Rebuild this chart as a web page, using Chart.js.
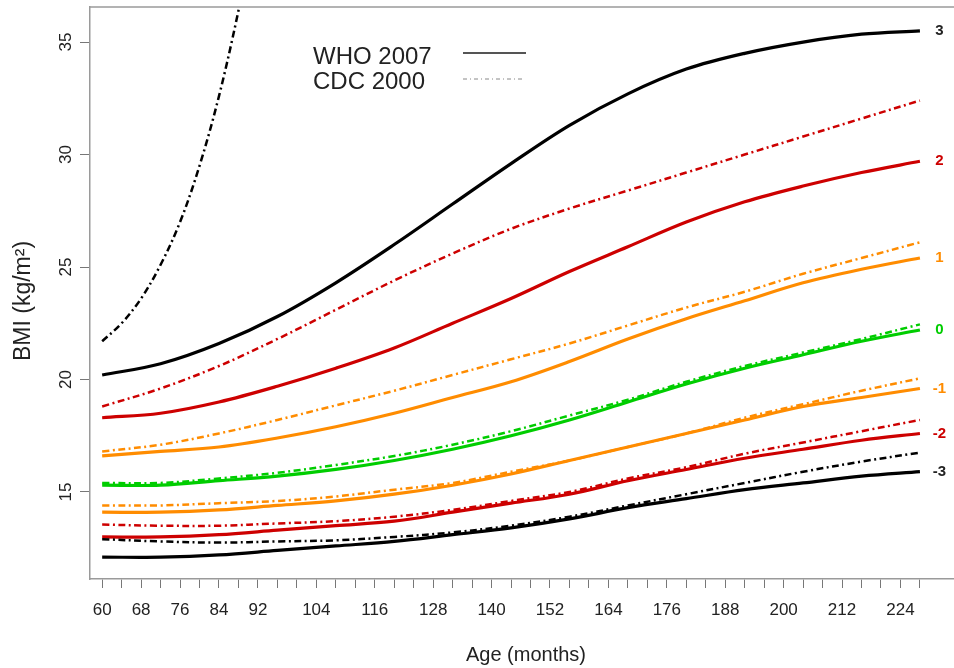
<!DOCTYPE html>
<html>
<head>
<meta charset="utf-8">
<title>BMI-for-age: WHO 2007 vs CDC 2000</title>
<script src="https://cdn.jsdelivr.net/npm/chart.js@4.4.1/dist/chart.umd.min.js"></script>
<style>
  html, body { margin: 0; padding: 0; background: #fff; overflow: hidden; }
  #wrap { width: 954px; height: 668px; }
</style>
</head>
<body>
<div id="wrap"><canvas id="bmi" width="954" height="668"></canvas></div>
<script>
(function () {
  'use strict';

  /* ---------------------------------------------------------------
     DATA
     --------------------------------------------------------------- */

  var ages = [60, 72, 84, 96, 108, 120, 132, 144, 156, 168, 180, 192, 204, 216, 228];

  // WHO 2007 z-score curves (solid)
  var whoP3 = [20.2, 20.7, 21.6, 22.8, 24.3, 26.0, 27.8, 29.6, 31.3, 32.7, 33.8, 34.5, 35.0, 35.35, 35.5];
  var whoP2 = [18.3, 18.5, 19.0, 19.7, 20.5, 21.4, 22.5, 23.6, 24.8, 25.9, 27.0, 27.9, 28.6, 29.2, 29.7];
  var whoP1 = [16.6, 16.8, 17.0, 17.4, 17.9, 18.5, 19.2, 19.9, 20.8, 21.8, 22.7, 23.5, 24.3, 24.9, 25.4];
  var who0  = [15.3, 15.3, 15.5, 15.7, 16.0, 16.4, 16.9, 17.5, 18.2, 19.0, 19.8, 20.5, 21.1, 21.7, 22.2];
  var whoM1 = [14.1, 14.1, 14.2, 14.4, 14.6, 14.9, 15.3, 15.8, 16.4, 17.0, 17.6, 18.2, 18.8, 19.2, 19.6];
  var whoM2 = [13.0, 13.0, 13.1, 13.3, 13.5, 13.7, 14.1, 14.5, 14.9, 15.5, 16.0, 16.5, 16.9, 17.3, 17.6];
  var whoM3 = [12.1, 12.1, 12.2, 12.4, 12.6, 12.8, 13.1, 13.4, 13.8, 14.3, 14.7, 15.1, 15.4, 15.7, 15.9];

  // CDC 2000 z-score curves (dot-dash)
  var cdcP3Ages = [60, 64, 68, 72, 76, 80, 84, 88, 92];
  var cdcP3 = [21.7, 22.5, 23.6, 25.1, 27.0, 29.5, 32.6, 36.4, 40.8];
  var cdcP2 = [18.8, 19.6, 20.6, 21.8, 23.1, 24.4, 25.6, 26.7, 27.6, 28.4, 29.2, 30.0, 30.8, 31.6, 32.4];
  var cdcP1 = [16.8, 17.1, 17.6, 18.2, 18.85, 19.5, 20.2, 20.9, 21.6, 22.4, 23.2, 23.9, 24.7, 25.4, 26.1];
  var cdc0  = [15.4, 15.4, 15.6, 15.85, 16.2, 16.6, 17.1, 17.7, 18.4, 19.1, 19.9, 20.6, 21.2, 21.8, 22.45];
  var cdcM1 = [14.4, 14.4, 14.5, 14.6, 14.8, 15.1, 15.4, 15.9, 16.4, 17.0, 17.6, 18.3, 18.9, 19.5, 20.05];
  var cdcM2 = [13.55, 13.5, 13.5, 13.6, 13.7, 13.9, 14.2, 14.6, 15.0, 15.6, 16.1, 16.7, 17.2, 17.7, 18.2];
  var cdcM3 = [12.9, 12.8, 12.75, 12.8, 12.85, 13.0, 13.2, 13.5, 13.9, 14.4, 14.9, 15.4, 15.9, 16.35, 16.75];

  // axis ticks
  var xTickValues = [60, 64, 68, 72, 76, 80, 84, 88, 92, 96, 100, 104, 108, 112, 116, 120,
    124, 128, 132, 136, 140, 144, 148, 152, 156, 160, 164, 168, 172, 176, 180, 184,
    188, 192, 196, 200, 204, 208, 212, 216, 220, 224, 228];
  var xTickLabels = [60, 68, 76, 84, 92, 104, 116, 128, 140, 152, 164, 176, 188, 200, 212, 224];
  var yTickValues = [15, 20, 25, 30, 35];

  // right-hand z-score labels
  var zLabels = ['3', '2', '1', '0', '-1', '-2', '-3'];

  /* ---------------------------------------------------------------
     STYLE
     --------------------------------------------------------------- */

  var FONT = '"Liberation Sans", Arial, Helvetica, sans-serif';
  var BLACK = '#000000';
  var RED = '#cd0000';
  var ORANGE = '#ff8c00';
  var GREEN = '#00cd00';
  var FRAME = '#9a9a9a';
  var TEXT = '#222222';
  var DOTDASH = [7, 3.5, 2, 3.5];

  function pts(xs, ys) {
    return xs.map(function (x, i) { return { x: x, y: ys[i] }; });
  }

  function series(label, xs, ys, color, dashed) {
    return {
      label: label,
      data: pts(xs, ys),
      borderColor: color,
      borderWidth: dashed ? 2.5 : 3.2,
      borderDash: dashed ? DOTDASH : [],
      pointRadius: 0,
      fill: false,
      tension: 0.35
    };
  }

  var whoSets = [
    { ys: whoP3, color: BLACK },
    { ys: whoP2, color: RED },
    { ys: whoP1, color: ORANGE },
    { ys: who0, color: GREEN },
    { ys: whoM1, color: ORANGE },
    { ys: whoM2, color: RED },
    { ys: whoM3, color: BLACK }
  ];

  var datasets = [
    series('CDC +3', cdcP3Ages, cdcP3, BLACK, true),
    series('CDC +2', ages, cdcP2, RED, true),
    series('CDC +1', ages, cdcP1, ORANGE, true),
    series('CDC 0', ages, cdc0, GREEN, true),
    series('CDC -1', ages, cdcM1, ORANGE, true),
    series('CDC -2', ages, cdcM2, RED, true),
    series('CDC -3', ages, cdcM3, BLACK, true)
  ];
  whoSets.forEach(function (s, i) {
    datasets.push(series('WHO ' + zLabels[i], ages, s.ys, s.color, false));
  });

  /* ---------------------------------------------------------------
     DECORATION PLUGIN: frame top, rotated y labels, titles, legend
     --------------------------------------------------------------- */

  var decor = {
    id: 'decor',
    afterDraw: function (chart) {
      var ctx = chart.ctx;
      var a = chart.chartArea;
      var xs = chart.scales.x;
      var ys = chart.scales.y;
      ctx.save();

      // top edge of the box
      ctx.strokeStyle = FRAME;
      ctx.lineWidth = 1.5;
      ctx.beginPath();
      ctx.moveTo(a.left, a.top);
      ctx.lineTo(a.right, a.top);
      ctx.stroke();

      // y tick labels, parallel to the axis
      ctx.fillStyle = TEXT;
      ctx.font = '17px ' + FONT;
      ctx.textAlign = 'center';
      ctx.textBaseline = 'middle';
      yTickValues.forEach(function (v) {
        ctx.save();
        ctx.translate(66, ys.getPixelForValue(v));
        ctx.rotate(-Math.PI / 2);
        ctx.fillText(String(v), 0, 0);
        ctx.restore();
      });

      // y title
      ctx.save();
      ctx.font = '23px ' + FONT;
      ctx.translate(24, 301);
      ctx.rotate(-Math.PI / 2);
      ctx.fillText('BMI (kg/m\u00b2)', 0, 0);
      ctx.restore();

      // x title
      ctx.font = '20px ' + FONT;
      ctx.fillText('Age (months)', 526, 655);

      // z-score labels at right end of WHO curves
      ctx.font = 'bold 15px ' + FONT;
      whoSets.forEach(function (s, i) {
        ctx.fillStyle = s.color === BLACK ? '#222222' : s.color;
        ctx.fillText(zLabels[i], xs.getPixelForValue(232), ys.getPixelForValue(s.ys[s.ys.length - 1]));
      });

      // legend
      ctx.fillStyle = TEXT;
      ctx.font = '24px ' + FONT;
      ctx.textAlign = 'left';
      ctx.fillText('WHO 2007', 313, 57);
      ctx.fillText('CDC 2000', 313, 82);
      ctx.strokeStyle = '#555555';
      ctx.lineWidth = 2;
      ctx.beginPath();
      ctx.moveTo(463, 53);
      ctx.lineTo(526, 53);
      ctx.stroke();
      ctx.strokeStyle = '#888888';
      ctx.lineWidth = 1;
      ctx.setLineDash([4, 3, 1, 3]);
      ctx.beginPath();
      ctx.moveTo(463, 79);
      ctx.lineTo(523, 79);
      ctx.stroke();

      ctx.restore();
    }
  };

  /* ---------------------------------------------------------------
     CHART
     --------------------------------------------------------------- */

  new Chart(document.getElementById('bmi'), {
    type: 'line',
    data: { datasets: datasets },
    plugins: [decor],
    options: {
      responsive: false,
      animation: false,
      events: [],
      layout: { padding: { top: 7, left: 0, right: 0, bottom: 0 } },
      plugins: {
        legend: { display: false },
        tooltip: { enabled: false }
      },
      scales: {
        x: {
          type: 'linear',
          min: 57.5,
          max: 235.0,
          afterBuildTicks: function (scale) {
            scale.ticks = xTickValues.map(function (v) { return { value: v }; });
          },
          afterFit: function (scale) { scale.height = 89; },
          border: { display: true, color: FRAME, width: 1.5 },
          grid: {
            drawOnChartArea: false,
            drawTicks: true,
            tickLength: 9,
            color: '#777777',
            lineWidth: 1
          },
          ticks: {
            autoSkip: false,
            maxRotation: 0,
            minRotation: 0,
            padding: 12,
            color: TEXT,
            font: { family: FONT, size: 17 },
            callback: function (v) {
              return xTickLabels.indexOf(v) >= 0 ? String(v) : '';
            }
          }
        },
        y: {
          type: 'linear',
          min: 11.13,
          max: 36.56,
          afterBuildTicks: function (scale) {
            scale.ticks = yTickValues.map(function (v) { return { value: v }; });
          },
          afterFit: function (scale) { scale.width = 90; },
          border: { display: true, color: FRAME, width: 1.5 },
          grid: {
            drawOnChartArea: false,
            drawTicks: true,
            tickLength: 10,
            color: '#777777',
            lineWidth: 1
          },
          ticks: { display: false }
        }
      }
    }
  });
}());
</script>
</body>
</html>
